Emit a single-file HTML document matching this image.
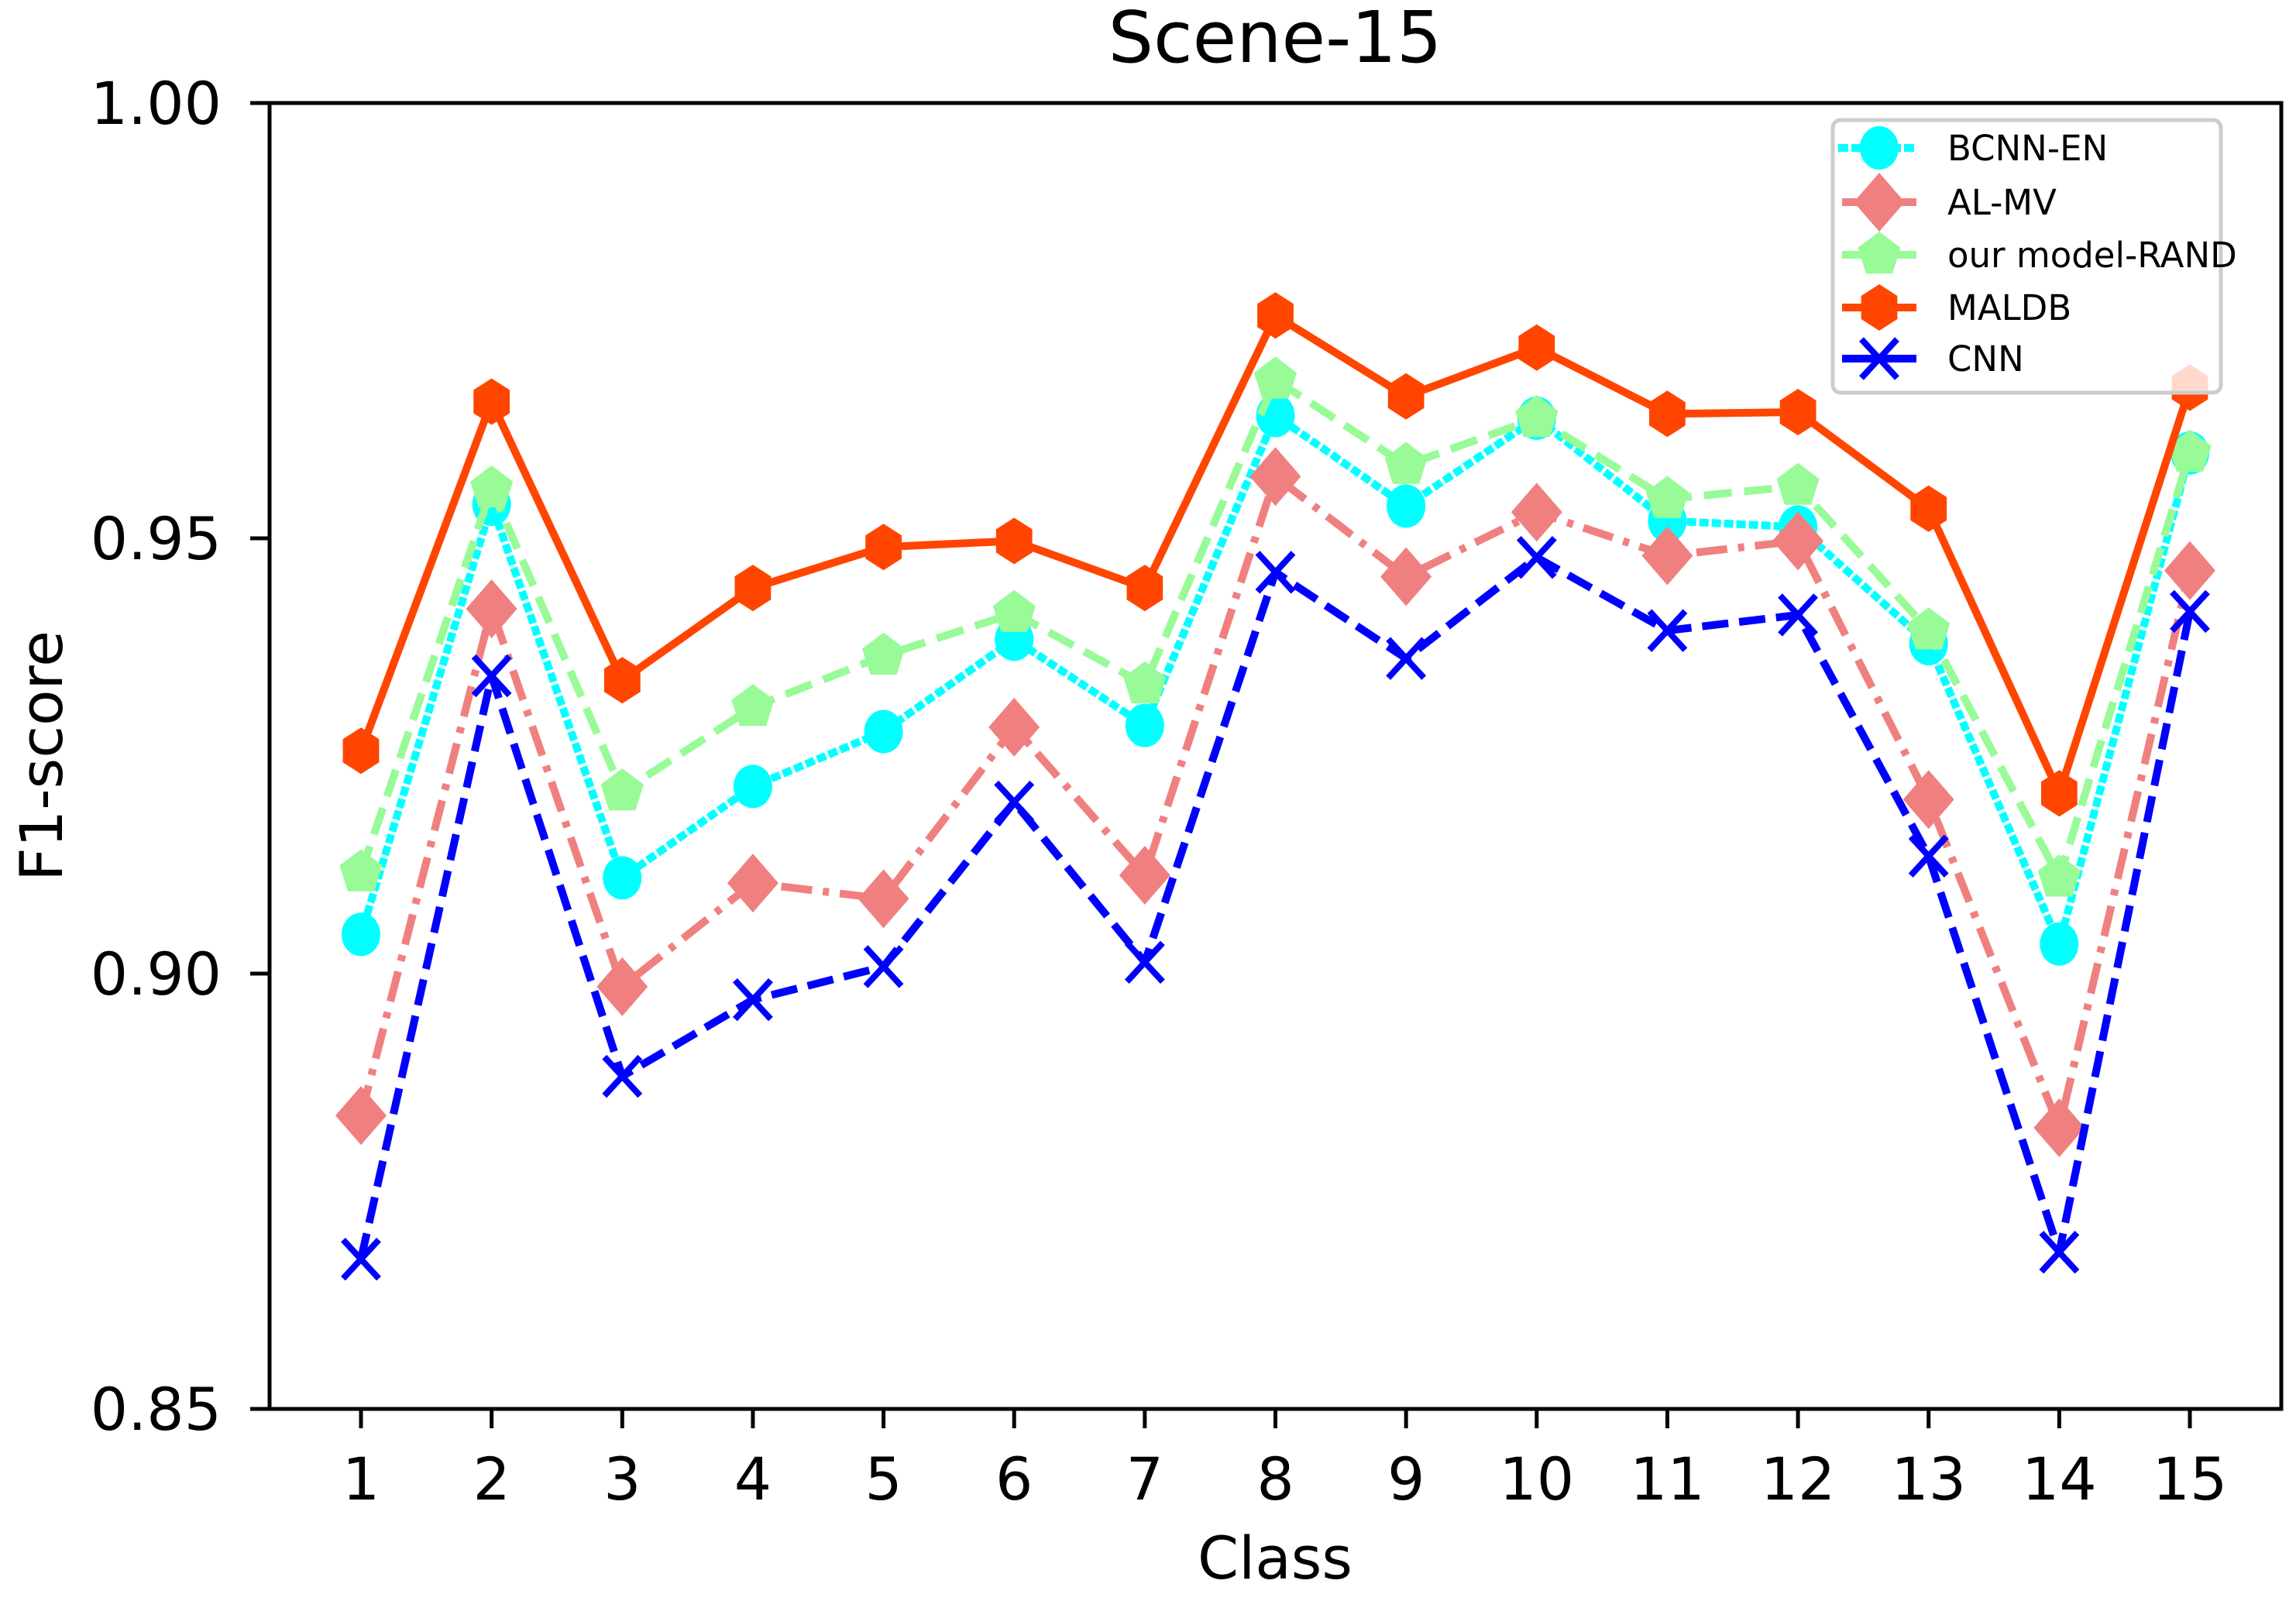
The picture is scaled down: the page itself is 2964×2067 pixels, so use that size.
<!DOCTYPE html>
<html><head><meta charset="utf-8"><style>
html,body{margin:0;padding:0;background:#fff;}
svg{display:block;}
text{font-family:"DejaVu Sans","Liberation Sans",sans-serif;fill:#000;}
</style></head><body>
<svg id="chart" width="2964" height="2067" viewBox="0 0 2964 2067" xmlns="http://www.w3.org/2000/svg">
<rect width="2964" height="2067" fill="#fff"/>
<text x="1646" y="80" font-size="92" text-anchor="middle">Scene-15</text>
<text x="1646" y="2038" font-size="76" text-anchor="middle">Class</text>
<text transform="translate(80,976) rotate(-90)" font-size="76" text-anchor="middle">F1-score</text>
<g id="plot"></g>
<rect x="348" y="133" width="2597" height="1686" fill="none" stroke="#000" stroke-width="5"/>
<g id="ticks"></g>
<g id="legend"></g>
</svg>
<script>
const categories=[1,2,3,4,5,6,7,8,9,10,11,12,13,14,15];
const bcnnEn=[0.9045,0.9539,0.911,0.9215,0.9278,0.9384,0.9285,0.9641,0.9537,0.9638,0.952,0.9513,0.9379,0.9034,0.9598];
const alMv=[0.8837,0.9419,0.8985,0.9104,0.9086,0.9283,0.9113,0.9571,0.9456,0.953,0.948,0.9497,0.92,0.8823,0.9463];
const ourRand=[0.9116,0.9557,0.9209,0.9306,0.9365,0.9414,0.9332,0.9682,0.9584,0.9638,0.9545,0.956,0.9394,0.911,0.9598];
const maldb=[0.9256,0.9657,0.9337,0.9443,0.949,0.9497,0.9443,0.9756,0.9663,0.9719,0.9643,0.9645,0.9534,0.9207,0.9673];
const cnn=[0.8672,0.9342,0.8882,0.897,0.9008,0.9197,0.9013,0.9461,0.9362,0.9478,0.9394,0.9412,0.9135,0.868,0.9416];
const yTicks=[0.85,0.90,0.95,1.00];
const yTickLabels=["0.85","0.90","0.95","1.00"];
const seriesNames=["BCNN-EN","AL-MV","our model-RAND","MALDB","CNN"];

const NS="http://www.w3.org/2000/svg";
const X0=348,X1=2945,Y0=133,Y1=1819;
function xs(c){return 466+(c-1)*(2827-466)/14;}
function ys(v){return Y1-(v-0.85)/(1.00-0.85)*(Y1-Y0);}
function mk(tag,attrs,parent){const e=document.createElementNS(NS,tag);for(const k in attrs)e.setAttribute(k,attrs[k]);parent.appendChild(e);return e;}

function marker(type,cx,cy,color,parent){
  let e;
  if(type==="circle"){e=mk("ellipse",{cx:cx,cy:cy,rx:25,ry:28,fill:color},parent);}
  else if(type==="diamond"){e=mk("polygon",{points:`${cx},${cy-38} ${cx+33},${cy} ${cx},${cy+38} ${cx-33},${cy}`,fill:color},parent);}
  else if(type==="pentagon"){let p=[];for(let i=0;i<5;i++){const a=-Math.PI/2+i*2*Math.PI/5;p.push((cx+29*Math.cos(a)).toFixed(1)+","+(cy+30*Math.sin(a)).toFixed(1));}e=mk("polygon",{points:p.join(" "),fill:color},parent);}
  else if(type==="hexagon"){let p=[];for(let i=0;i<6;i++){const a=-Math.PI/2+i*Math.PI/3;p.push((cx+27*Math.cos(a)).toFixed(1)+","+(cy+30*Math.sin(a)).toFixed(1));}e=mk("polygon",{points:p.join(" "),fill:color},parent);}
  else {e=mk("path",{d:`M${cx-23},${cy-25}L${cx+23},${cy+25}M${cx-23},${cy+25}L${cx+23},${cy-25}`,stroke:color,"stroke-width":8,fill:"none"},parent);}
  return e;
}

const series=[
 {vals:bcnnEn,color:"#00ffff",dash:"2,14",cap:"square",m:"circle"},
 {vals:alMv,color:"#f08080",dash:"40,14,8,14",cap:"butt",m:"diamond"},
 {vals:ourRand,color:"#98fb98",dash:"36,16",cap:"butt",m:"pentagon"},
 {vals:maldb,color:"#ff4500",dash:"",cap:"butt",m:"hexagon"},
 {vals:cnn,color:"#0000ff",dash:"34,14",cap:"butt",m:"x"}
];
const plot=document.getElementById("plot");
series.forEach((s,si)=>{
  const g=mk("g",{},plot);
  
  
  const pts=s.vals.map((v,i)=>xs(categories[i]).toFixed(1)+","+ys(v).toFixed(1)).join(" ");
  const line=mk("polyline",{points:pts,fill:"none",stroke:s.color,"stroke-width":10,"stroke-linecap":s.cap,"stroke-linejoin":"round"},g);
  if(s.dash)line.setAttribute("stroke-dasharray",s.dash);
  
  
  s.vals.forEach((v,i)=>{
    const e=marker(s.m,xs(categories[i]),ys(v),s.color,g);
    
    
  });
});

const tk=document.getElementById("ticks");
yTicks.forEach((t,i)=>{
  const y=ys(t);
  const l=mk("line",{x1:X0-25,x2:X0,y1:y,y2:y,stroke:"#000","stroke-width":5},tk);
  
  
  const tx=mk("text",{x:286,y:y+27,"font-size":76,"text-anchor":"end"},tk);
  tx.textContent=yTickLabels[i];
  
  
});
categories.forEach(c=>{
  const x=xs(c);
  const l=mk("line",{x1:x,x2:x,y1:Y1,y2:Y1+25,stroke:"#000","stroke-width":5},tk);
  
  
  const tx=mk("text",{x:x,y:1936,"font-size":76,"text-anchor":"middle"},tk);
  tx.textContent=String(c);
  
  
});

const lg=document.getElementById("legend");


mk("rect",{x:2366,y:155,width:501,height:352,rx:10,fill:"#fff","fill-opacity":0.8,stroke:"#cccccc","stroke-width":5},lg);
const rowY=[191,261,329,397,463];
series.forEach((s,i)=>{
  const g=mk("g",{},lg);
  
  
  const l=mk("line",{x1:2378,x2:2474,y1:rowY[i],y2:rowY[i],stroke:s.color,"stroke-width":10},g);
  if(s.m==="circle"){l.setAttribute("stroke-dasharray","3,14");l.setAttribute("stroke-linecap","square");}
  marker(s.m,2426,rowY[i],s.color,g);
  const tx=mk("text",{x:2514,y:rowY[i]+16,"font-size":45},g);
  tx.textContent=seriesNames[i];
});
</script>
</body></html>
